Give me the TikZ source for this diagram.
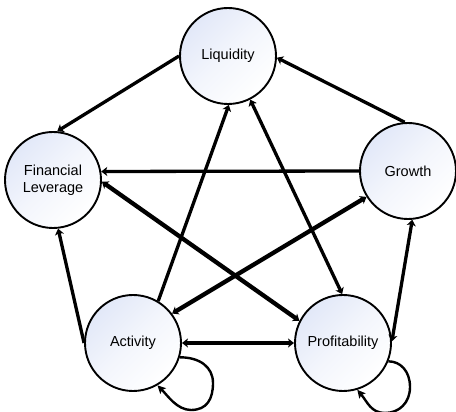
\documentclass[tikz,border=0pt]{standalone}
\usepackage{fontspec}
\setmainfont{Liberation Sans}
\usetikzlibrary{arrows.meta,calc}
\definecolor{nodeblue}{RGB}{226,232,248}
\begin{document}
\begin{tikzpicture}[x=1pt,y=1pt,
  state/.style={circle, draw=black, line width=1.9pt, minimum size=96pt, inner sep=0pt,
    align=center, font=\fontsize{14.5}{17}\selectfont,
    top color=nodeblue, bottom color=white, middle color=nodeblue!40!white, shading angle=45, draw=black},
  tip/.style={-{Stealth[length=6pt,width=9pt,inset=1.5pt]}},
  both/.style={{Stealth[length=6pt,width=9pt,inset=1.5pt]}-{Stealth[length=6pt,width=9pt,inset=1.5pt]}},
  edge/.style={line width=3.3pt},
  heavy/.style={line width=4.3pt},
  loopline/.style={line width=2.4pt, -{Stealth[length=8pt,width=8pt,inset=1.5pt]}}]
\useasboundingbox (0,0) rectangle (456,412);
\node[state] (liq)  at (228,356) {Liquidity};
\node[state] (fl)   at (53,232)  {Financial\\Leverage};
\node[state] (gr)   at (408,241) {Growth};
\node[state] (act)  at (133,69)  {Activity};
\node[state] (prof) at (343,69)  {Profitability};

\draw[edge,tip] (liq.180) -- (fl.85);
\draw[edge,tip] (gr.94) -- (liq.-2);
\draw[edge,tip] (gr.180) -- (fl.10);
\draw[edge,tip] (act.59) -- (liq.-89);
\draw[edge,both] (liq.-63) -- (prof.91);
\draw[heavy,both] (fl.-2) -- (prof.153);
\draw[heavy,both] (gr.212) -- (act.37);
\draw[edge,tip] (act.180) -- (fl.-84);
\draw[edge,both] (gr.-85) -- (prof.2);
\draw[heavy,both] (act.0) -- (prof.180);

\draw[loopline] (act.-17) .. controls +(20,0) and +(0,16) .. ($(act.center)+(80,-40)$)
  .. controls +(0,-16) and +(16,0) .. ($(act.center)+(58,-67)$)
  .. controls +(-14,0) and +(10,-10) .. (act.-60);
\draw[loopline] (prof.-22) .. controls +(12,0) and +(0,16) .. ($(prof.center)+(67,-44)$)
  .. controls +(0,-16) and +(14,0) .. ($(prof.center)+(42,-70)$)
  .. controls +(-14,0) and +(10,-12) .. (prof.-73);
\end{tikzpicture}
\end{document}
